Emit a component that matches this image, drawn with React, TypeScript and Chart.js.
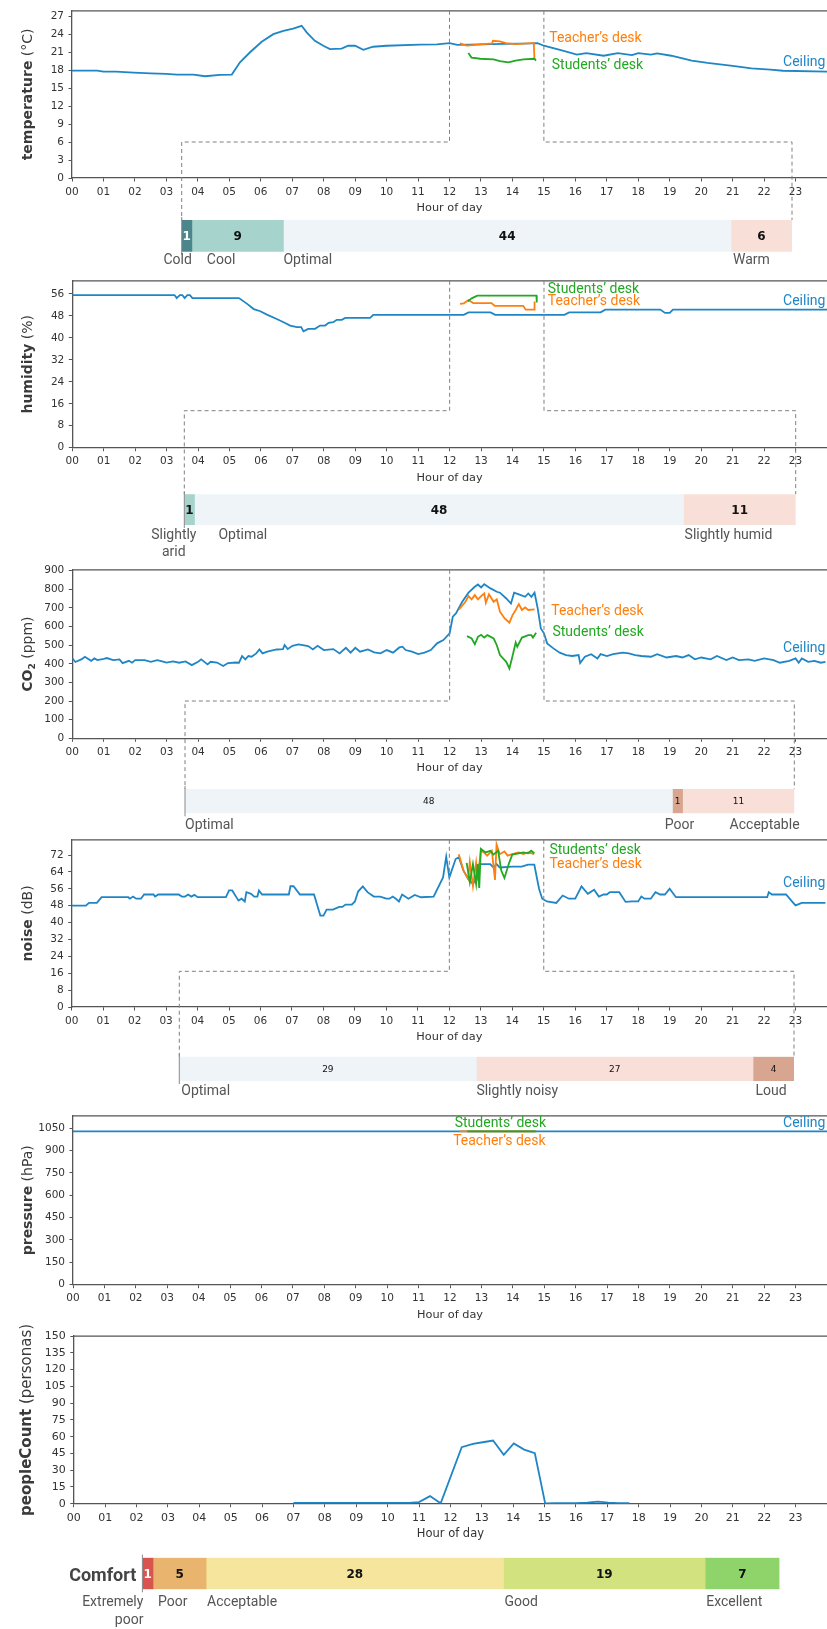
import React, { useEffect, useRef } from "react";
import { Chart, registerables } from "chart.js";
Chart.register(...registerables);

// ---------------- DATA ----------------
const hourTickValues = [0,1,2,3,4,5,6,7,8,9,10,11,12,13,14,15,16,17,18,19,20,21,22,23];
const hourTickLabels = ["00","01","02","03","04","05","06","07","08","09","10","11","12","13","14","15","16","17","18","19","20","21","22","23"];

const tempTicks = [0,3,6,9,12,15,18,21,24,27];
const humTicks = [0,8,16,24,32,40,48,56];
const co2Ticks = [0,100,200,300,400,500,600,700,800,900];
const noiseTicks = [0,8,16,24,32,40,48,56,64,72];
const pressureTicks = [0,150,300,450,600,750,900,1050];
const peopleTicks = [0,15,30,45,60,75,90,105,120,135,150];

const tempCeiling = [[0,17.92],[0.8,17.92],[1.0,17.75],[1.4,17.75],[1.96,17.58],[2.5,17.47],[3.0,17.37],[3.33,17.26],[3.86,17.26],[4.23,16.98],[4.7,17.2],[5.08,17.26],[5.34,19.3],[5.66,20.98],[6.03,22.74],[6.4,24.0],[6.72,24.56],[7.03,24.94],[7.3,25.4],[7.46,24.3],[7.72,22.9],[7.99,22.07],[8.2,21.5],[8.57,21.6],[8.78,22.07],[9.0,22.07],[9.26,21.4],[9.57,21.9],[10.0,22.07],[11.05,22.24],[11.6,22.3],[12.0,22.5],[12.25,22.2],[13.35,22.35],[14.6,22.45],[14.8,22.5],[15.0,22.07],[15.6,21.26],[16.05,20.6],[16.35,20.85],[16.9,20.4],[17.35,20.85],[17.8,20.5],[18.0,20.85],[18.4,20.6],[18.6,20.8],[19.05,20.4],[19.7,19.6],[20.2,19.2],[21.0,18.7],[21.6,18.3],[22.2,18.1],[22.6,17.9],[24.0,17.75]];
const tempTeacher = [[12.33,22.45],[12.55,22.1],[13.0,22.3],[13.35,22.45],[13.38,22.9],[13.6,22.8],[13.8,22.5],[14.1,22.35],[14.6,22.5],[14.68,22.5],[14.7,19.9]];
const tempStudents = [[12.6,20.85],[12.7,20.1],[12.98,19.9],[13.4,19.8],[13.6,19.5],[13.87,19.3],[14.1,19.6],[14.35,19.8],[14.7,19.9],[14.75,19.6]];

const humCeiling = [[0,55.6],[3.25,55.6],[3.32,54.5],[3.42,55.6],[3.5,55.6],[3.57,54.5],[3.66,55.6],[3.74,55.6],[3.82,54.5],[5.3,54.5],[5.56,52.4],[5.77,50.5],[5.98,49.7],[6.19,48.5],[6.5,46.9],[6.72,45.7],[6.93,44.5],[7.14,43.9],[7.28,43.9],[7.35,42.4],[7.5,43.3],[7.72,43.3],[7.88,44.5],[8.04,44.5],[8.15,45.5],[8.3,45.7],[8.41,46.6],[8.57,46.6],[8.68,47.3],[9.47,47.3],[9.57,48.4],[12.45,48.4],[12.6,49.3],[13.3,49.3],[13.45,48.4],[15.65,48.4],[15.8,49.3],[16.8,49.3],[16.95,50.3],[18.7,50.3],[18.85,49.1],[19.0,49.1],[19.1,50.3],[24,50.3]];
const humTeacher = [[12.33,52.4],[12.45,52.6],[12.6,53.8],[12.75,52.7],[13.33,52.7],[13.43,51.7],[14.34,51.7],[14.42,50.3],[14.69,50.3],[14.7,53.3]];
const humStudents = [[12.58,53.3],[12.7,54.4],[12.88,55.4],[14.76,55.4],[14.77,52.9]];

const co2Ceiling = [[0,430],[0.1,410],[0.3,425],[0.4,438],[0.6,416],[0.7,429],[0.8,420],[1,427],[1.1,431],[1.3,420],[1.5,424],[1.6,404],[1.8,416],[1.9,406],[2,420],[2.3,420],[2.5,411],[2.7,420],[2.8,416],[3,407],[3.2,413],[3.4,406],[3.6,413],[3.8,393],[4,411],[4.1,424],[4.3,397],[4.4,411],[4.6,407],[4.8,388],[4.95,404],[5.2,407],[5.3,406],[5.4,442],[5.5,424],[5.6,442],[5.7,438],[5.85,456],[5.95,477],[6.05,456],[6.2,465],[6.5,477],[6.7,479],[6.75,501],[6.85,479],[7,497],[7.2,504],[7.5,495],[7.65,477],[7.8,497],[8,474],[8.3,479],[8.5,456],[8.7,486],[8.85,460],[9,486],[9.15,465],[9.4,477],[9.6,462],[9.8,456],[10,474],[10.2,460],[10.4,488],[10.5,492],[10.6,474],[10.8,465],[11,452],[11.2,460],[11.4,474],[11.6,510],[11.8,528],[12,564],[12.1,653],[12.2,671],[12.4,733],[12.6,782],[12.8,814],[12.9,826],[13,810],[13.1,828],[13.3,805],[13.5,787],[13.6,782],[13.8,751],[13.95,724],[14.05,782],[14.2,773],[14.4,760],[14.5,778],[14.6,760],[14.7,782],[14.8,698],[14.9,590],[15,564],[15.1,510],[15.3,483],[15.5,460],[15.7,447],[15.9,442],[16.1,447],[16.15,404],[16.3,438],[16.5,452],[16.7,429],[16.8,452],[17,442],[17.2,452],[17.5,460],[17.7,456],[17.9,447],[18.1,442],[18.4,438],[18.6,452],[18.9,434],[19.2,442],[19.4,434],[19.6,447],[19.8,424],[20,434],[20.3,424],[20.5,442],[20.8,420],[21,434],[21.2,420],[21.5,424],[21.7,416],[22,429],[22.3,420],[22.5,406],[22.8,416],[23,429],[23.1,406],[23.2,429],[23.4,411],[23.6,416],[23.8,406],[23.95,411]];
const co2Teacher = [[12.3,692],[12.5,733],[12.6,764],[12.7,746],[12.8,769],[12.9,746],[13,764],[13.1,778],[13.15,728],[13.25,773],[13.4,733],[13.5,746],[13.6,680],[13.75,644],[13.9,621],[14,662],[14.1,689],[14.2,721],[14.3,689],[14.4,703],[14.5,689],[14.7,692]];
const co2Students = [[12.55,549],[12.7,536],[12.8,505],[12.9,545],[13,556],[13.1,541],[13.2,554],[13.4,536],[13.5,500],[13.6,447],[13.8,411],[13.9,375],[14,442],[14.1,514],[14.15,492],[14.3,541],[14.5,554],[14.6,554],[14.65,541],[14.75,567]];

const noiseCeiling = [[0,48],[0.45,48],[0.55,49.3],[0.8,49.3],[0.95,52],[1.8,52],[1.85,51.3],[1.95,52.3],[2.05,51.3],[2.2,51.3],[2.3,53.3],[2.6,53.3],[2.65,52.3],[2.75,53.3],[3.4,53.3],[3.5,52.3],[3.6,52.3],[3.7,53.3],[3.8,52.3],[3.9,53.1],[4,52],[4.9,52],[5,55.2],[5.1,55.2],[5.3,50.4],[5.4,51.3],[5.5,50],[5.55,54.4],[5.7,53.6],[5.8,52.3],[5.9,52.3],[5.95,55.2],[6.05,53.3],[6.9,53.3],[6.95,57.2],[7.05,57.2],[7.25,53.3],[7.7,53.3],[7.85,45.8],[7.9,43.3],[8,43.3],[8.1,46.1],[8.3,46.1],[8.5,47.4],[8.6,47.4],[8.7,48.5],[8.9,48.5],[9,50],[9.1,54.7],[9.25,57.1],[9.4,54.4],[9.6,52.3],[9.8,52.3],[10,51.3],[10.1,51.3],[10.2,52.3],[10.3,51.3],[10.4,50],[10.5,53.3],[10.7,51.3],[10.9,53.1],[11.1,52],[11.5,52.3],[11.8,61.4],[11.9,71.2],[12,61.4],[12.2,70.1],[12.3,70.9],[12.45,64.6],[12.6,60.7],[12.75,58.3],[12.85,60.7],[12.95,67.7],[13.3,67.7],[13.4,66.1],[13.5,67.7],[13.6,66.1],[14,66.5],[14.3,66.5],[14.5,67.4],[14.7,67.4],[14.85,56],[14.95,51.3],[15.1,50],[15.4,49.3],[15.6,52.8],[15.8,51.3],[16,51.3],[16.2,57.1],[16.4,53.6],[16.6,55.5],[16.75,52.3],[16.9,53.3],[17,53.3],[17.1,54.4],[17.4,54.4],[17.6,49.8],[17.8,50],[18,50],[18.1,52.3],[18.2,51.3],[18.4,51.3],[18.55,54.4],[18.7,53.3],[18.85,53.3],[19,56],[19.2,52],[22.1,52],[22.15,54.4],[22.25,53.3],[22.7,53.3],[22.9,49.8],[23,48.1],[23.2,49.3],[23.95,49.3]];
const noiseTeacher = [[12.3,72.4],[12.45,64.6],[12.6,60.7],[12.65,68.7],[12.75,57.2],[12.85,68.3],[12.9,59.9],[13,74],[13.1,73.2],[13.2,71.7],[13.35,74],[13.45,60.2],[13.5,77.1],[13.6,72.4],[13.75,73.7],[13.85,71.7],[14,72.4],[14.2,73.2],[14.35,72.4],[14.5,73.2],[14.7,72.4]];
const noiseStudents = [[12.55,68.3],[12.65,59.1],[12.75,67.7],[12.85,58.3],[12.9,67.7],[12.95,56.4],[13,74.9],[13.15,73.2],[13.3,74],[13.4,72.2],[13.55,74],[13.65,64.6],[13.75,61.1],[13.9,68.3],[14,72.2],[14.2,72.8],[14.35,73.2],[14.5,72.8],[14.6,74],[14.7,72.8]];

const pressureCeiling = [[0,1027],[6,1027],[12,1027],[18,1027],[24,1027]];
const pressureTeacher = [[12.3,1027],[14.7,1027]];
const pressureStudents = [[12.55,1027],[14.75,1027]];

const peopleCount = [[7.0,0.8],[7.33,0.8],[7.67,0.8],[8.0,0.8],[8.33,0.8],[8.67,0.8],[9.0,0.8],[9.33,0.8],[9.67,0.8],[10.0,0.8],[10.33,0.8],[10.67,0.8],[11.0,1.5],[11.35,6.8],[11.69,0.3],[12.36,50.6],[12.72,53.6],[13.03,55],[13.36,56.5],[13.7,43.8],[14.02,54],[14.35,48.4],[14.69,45.2],[15.02,0.3],[15.35,0.5],[15.7,0.5],[16.0,0.5],[16.36,0.9],[16.7,1.8],[17.03,0.9],[17.36,0.6],[17.7,0.6]];

const tempCats = ["Cold","Cool","Optimal","Warm"];
const tempCounts = [1,9,44,6];
const humCats = ["Slightly\narid","Optimal","Slightly humid"];
const humCounts = [1,48,11];
const co2Cats = ["Optimal","Poor","Acceptable"];
const co2Counts = [48,1,11];
const noiseCats = ["Optimal","Slightly noisy","Loud"];
const noiseCounts = [29,27,4];
const comfortCats = ["Extremely\npoor","Poor","Acceptable","Good","Excellent"];
const comfortCounts = [1,5,28,19,7];

// ---------------- STYLE ----------------
const W = 827;
const XH = 37;
const BLUE = "#1f86c6";
const ORANGE = "#ff7f0e";
const GREEN = "#22a822";
const AXIS = "#555";
const TICKF = "'DejaVu Sans', sans-serif";
const TEXTF = "Roboto, 'DejaVu Sans', sans-serif";

type Seg = { text: string; font: string; dy?: number };
type Annot = { text: string; x: number; y: number; color: string; align: CanvasTextAlign };
type Conn = { y: number; barTop: number; barLeft: number; barRight: number };
type LinePanel = {
  top: number; height: number; plotTop: number; plotBottom: number; plotLeft: number;
  yMax: number; yTicks: number[]; title: Seg[]; titleX: number;
  series: { data: number[][]; color: string }[];
  annotations: Annot[]; conn?: Conn; tickSize: number; xTitleSize: number;
};

const bold = (s: number) => `bold ${s}px 'DejaVu Sans', sans-serif`;
const reg = (s: number) => `${s}px 'DejaVu Sans', sans-serif`;

function LineChart({ p }: { p: LinePanel }) {
  const ref = useRef<HTMLCanvasElement>(null);
  useEffect(() => {
    const decor = {
      id: "decor",
      afterDraw(chart: any) {
        const ctx = chart.ctx as CanvasRenderingContext2D;
        const a = chart.chartArea;
        const xs = chart.scales.x, ys = chart.scales.y;
        ctx.save();
        ctx.strokeStyle = AXIS; ctx.lineWidth = 1.3;
        ctx.beginPath(); ctx.moveTo(a.left, a.top); ctx.lineTo(a.right, a.top); ctx.stroke();
        if (p.conn) {
          const c = p.conn;
          const cy = c.y - p.top, bt = c.barTop - p.top;
          const x12 = xs.getPixelForValue(12), x15 = xs.getPixelForValue(15);
          ctx.setLineDash([4, 3]); ctx.strokeStyle = "#808080"; ctx.lineWidth = 1;
          ctx.beginPath(); ctx.moveTo(x12, a.top); ctx.lineTo(x12, cy); ctx.lineTo(c.barLeft, cy); ctx.lineTo(c.barLeft, bt); ctx.stroke();
          ctx.beginPath(); ctx.moveTo(x15, a.top); ctx.lineTo(x15, cy); ctx.lineTo(c.barRight, cy); ctx.lineTo(c.barRight, bt); ctx.stroke();
          ctx.setLineDash([]);
        }
        // y title
        ctx.save();
        ctx.translate(p.titleX, (a.top + a.bottom) / 2);
        ctx.rotate(-Math.PI / 2);
        let total = 0;
        const widths = p.title.map((s) => { ctx.font = s.font; const w = ctx.measureText(s.text).width; total += w; return w; });
        let x = -total / 2;
        ctx.fillStyle = "#3a3a3a"; ctx.textBaseline = "alphabetic"; ctx.textAlign = "left";
        p.title.forEach((s, i) => { ctx.font = s.font; ctx.fillText(s.text, x, 5 + (s.dy || 0)); x += widths[i]; });
        ctx.restore();
        // annotations
        ctx.font = `14px ${TEXTF}`; ctx.textBaseline = "middle";
        p.annotations.forEach((an) => {
          ctx.fillStyle = an.color; ctx.textAlign = an.align;
          ctx.fillText(an.text, xs.getPixelForValue(an.x), ys.getPixelForValue(an.y));
        });
        ctx.restore();
      },
    };
    const bottomPad = p.height - (p.plotBottom - p.top) - XH;
    const chart = new Chart(ref.current!, {
      type: "line",
      data: {
        datasets: p.series.map((s) => ({
          data: s.data.map(([x, y]) => ({ x, y })),
          borderColor: s.color, borderWidth: 1.8, pointRadius: 0, fill: false, tension: 0,
        })),
      },
      options: {
        animation: false, responsive: false, maintainAspectRatio: false,
        layout: { padding: { top: p.plotTop - p.top, bottom: bottomPad, left: 0, right: 0 } },
        plugins: { legend: { display: false }, tooltip: { enabled: false } },
        scales: {
          x: {
            type: "linear", min: 0, max: 24,
            afterBuildTicks: (s: any) => { s.ticks = hourTickValues.map((v) => ({ value: v })); },
            afterFit: (s: any) => { s.height = XH; },
            ticks: { callback: (_v: any, i: number) => hourTickLabels[i], font: { family: TICKF, size: p.tickSize }, color: "#333", padding: 4, maxRotation: 0, autoSkip: false },
            grid: { drawOnChartArea: false, tickLength: 3.5, color: AXIS, tickWidth: 1 },
            border: { color: AXIS, width: 1.3 },
            title: { display: true, text: "Hour of day", font: { family: TICKF, size: p.xTitleSize }, color: "#333", padding: 0 },
          },
          y: {
            type: "linear", min: 0, max: p.yMax,
            afterBuildTicks: (s: any) => { s.ticks = p.yTicks.map((v) => ({ value: v })); },
            afterFit: (s: any) => { s.width = p.plotLeft; },
            ticks: { callback: (v: any) => String(v), font: { family: TICKF, size: p.tickSize }, color: "#333", padding: 4.5 },
            grid: { drawOnChartArea: false, tickLength: 3.5, color: AXIS, tickWidth: 1 },
            border: { color: AXIS, width: 1.3 },
          },
        },
      } as any,
      plugins: [decor],
    });
    return () => chart.destroy();
  }, []);
  return <canvas ref={ref} width={W} height={p.height} style={{ position: "absolute", left: 0, top: p.top }} />;
}

type Anchor = { at: "start" | "end" | "center"; align: CanvasTextAlign; dx: number; multi?: "center" | "right" };
type BarPanel = {
  top: number; height: number; barTop: number; barBottom: number; barLeft: number; barRight: number;
  values: number[]; cats: string[]; colors: string[]; numColors: string[]; numFont: string;
  anchors: Anchor[]; labelDy: number; lineH: number; leftTitle?: string;
};

function BarStrip({ p }: { p: BarPanel }) {
  const ref = useRef<HTMLCanvasElement>(null);
  useEffect(() => {
    const total = p.values.reduce((a, b) => a + b, 0);
    const deco = {
      id: "deco",
      afterDraw(chart: any) {
        const ctx = chart.ctx as CanvasRenderingContext2D;
        const a = chart.chartArea;
        ctx.save();
        ctx.strokeStyle = "#8a8a8a"; ctx.lineWidth = 1;
        ctx.beginPath(); ctx.moveTo(a.left, a.top - 3); ctx.lineTo(a.left, a.bottom + 3); ctx.stroke();
        const labelY = p.barBottom - p.top + p.labelDy;
        p.values.forEach((v, i) => {
          const el = chart.getDatasetMeta(i).data[0];
          const x0 = Math.min(el.base, el.x), x1 = Math.max(el.base, el.x);
          ctx.font = p.numFont; ctx.fillStyle = p.numColors[i]; ctx.textAlign = "center"; ctx.textBaseline = "middle";
          ctx.fillText(String(v), (x0 + x1) / 2, el.y + 1);
          const an = p.anchors[i];
          const ax = (an.at === "start" ? x0 : an.at === "end" ? x1 : (x0 + x1) / 2) + an.dx;
          const lines = p.cats[i].split("\n");
          ctx.font = `14px ${TEXTF}`; ctx.fillStyle = "#555";
          const ws = lines.map((l) => ctx.measureText(l).width);
          const mw = Math.max(...ws);
          const left = an.align === "right" ? ax - mw : an.align === "center" ? ax - mw / 2 : ax;
          lines.forEach((l, j) => {
            const y = labelY + j * p.lineH;
            const m = an.multi || (an.align === "right" ? "right" : "left");
            if (m === "center") { ctx.textAlign = "center"; ctx.fillText(l, left + mw / 2, y); }
            else if (m === "right") { ctx.textAlign = "right"; ctx.fillText(l, left + mw, y); }
            else { ctx.textAlign = "left"; ctx.fillText(l, left, y); }
          });
        });
        if (p.leftTitle) {
          ctx.font = `bold 18px ${TEXTF}`; ctx.fillStyle = "#444"; ctx.textAlign = "right"; ctx.textBaseline = "middle";
          ctx.fillText(p.leftTitle, a.left - 6, (a.top + a.bottom) / 2 + 3);
        }
        ctx.restore();
      },
    };
    const chart = new Chart(ref.current!, {
      type: "bar",
      data: {
        labels: [""],
        datasets: p.values.map((v, i) => ({ data: [v], backgroundColor: p.colors[i], borderWidth: 0, barPercentage: 1, categoryPercentage: 1 })),
      },
      options: {
        indexAxis: "y", animation: false, responsive: false, maintainAspectRatio: false,
        layout: { padding: { left: p.barLeft, right: W - p.barRight, top: p.barTop - p.top, bottom: p.height - (p.barBottom - p.top) } },
        plugins: { legend: { display: false }, tooltip: { enabled: false } },
        scales: { x: { stacked: true, display: false, min: 0, max: total }, y: { stacked: true, display: false } },
      } as any,
      plugins: [deco],
    });
    return () => chart.destroy();
  }, []);
  return <canvas ref={ref} width={W} height={p.height} style={{ position: "absolute", left: 0, top: p.top }} />;
}

const deskAnnots = (tx: number, ty: number, sx: number, sy: number, cy: number): Annot[] => [
  { text: "Teacher’s desk", x: tx, y: ty, color: ORANGE, align: "left" },
  { text: "Students’ desk", x: sx, y: sy, color: GREEN, align: "left" },
  { text: "Ceiling", x: 23.95, y: cy, color: BLUE, align: "right" },
];

const linePanels: LinePanel[] = [
  {
    top: 0, height: 222, plotTop: 10, plotBottom: 178, plotLeft: 72, yMax: 27.9, yTicks: tempTicks, titleX: 27,
    title: [{ text: "temperature", font: bold(14) }, { text: " (°C)", font: reg(14) }],
    series: [{ data: tempStudents, color: GREEN }, { data: tempTeacher, color: ORANGE }, { data: tempCeiling, color: BLUE }],
    annotations: deskAnnots(15.17, 23.3, 15.25, 18.75, 19.3),
    conn: { y: 142, barTop: 220, barLeft: 181.7, barRight: 792 }, tickSize: 10.5, xTitleSize: 11.3,
  },
  {
    top: 270, height: 227, plotTop: 280, plotBottom: 447.7, plotLeft: 72.3, yMax: 60.8, yTicks: humTicks, titleX: 27,
    title: [{ text: "humidity", font: bold(14) }, { text: " (%)", font: reg(14) }],
    series: [{ data: humStudents, color: GREEN }, { data: humTeacher, color: ORANGE }, { data: humCeiling, color: BLUE }],
    annotations: deskAnnots(15.12, 53.2, 15.12, 57.6, 53.2),
    conn: { y: 410.7, barTop: 494.3, barLeft: 184.3, barRight: 795.7 }, tickSize: 10.5, xTitleSize: 11.3,
  },
  {
    top: 559, height: 232, plotTop: 569, plotBottom: 738.3, plotLeft: 72.3, yMax: 905, yTicks: co2Ticks, titleX: 27,
    title: [{ text: "CO", font: bold(14) }, { text: "2", font: bold(9), dy: 3 }, { text: " (ppm)", font: reg(14) }],
    series: [{ data: co2Students, color: GREEN }, { data: co2Teacher, color: ORANGE }, { data: co2Ceiling, color: BLUE }],
    annotations: deskAnnots(15.23, 680, 15.27, 567, 480),
    conn: { y: 701, barTop: 789, barLeft: 185, barRight: 794.3 }, tickSize: 10.5, xTitleSize: 11.3,
  },
  {
    top: 829, height: 230, plotTop: 839, plotBottom: 1007, plotLeft: 71.7, yMax: 79.2, yTicks: noiseTicks, titleX: 27,
    title: [{ text: "noise", font: bold(14) }, { text: " (dB)", font: reg(14) }],
    series: [{ data: noiseStudents, color: GREEN }, { data: noiseTeacher, color: ORANGE }, { data: noiseCeiling, color: BLUE }],
    annotations: deskAnnots(15.18, 67.4, 15.18, 74, 58.6),
    conn: { y: 971.3, barTop: 1056.7, barLeft: 179.3, barRight: 794 }, tickSize: 10.5, xTitleSize: 11.3,
  },
  {
    top: 1105, height: 220, plotTop: 1115, plotBottom: 1284.7, plotLeft: 73, yMax: 1132, yTicks: pressureTicks, titleX: 27,
    title: [{ text: "pressure", font: bold(14) }, { text: " (hPa)", font: reg(14) }],
    series: [{ data: pressureStudents, color: GREEN }, { data: pressureTeacher, color: ORANGE }, { data: pressureCeiling, color: BLUE }],
    annotations: deskAnnots(12.1, 959, 12.15, 1081, 1081), tickSize: 10.5, xTitleSize: 11.3,
  },
  {
    top: 1325, height: 220, plotTop: 1334.7, plotBottom: 1503.7, plotLeft: 73.8, yMax: 150, yTicks: peopleTicks, titleX: 26,
    title: [{ text: "peopleCount", font: bold(15) }, { text: " (personas)", font: reg(15) }],
    series: [{ data: peopleCount, color: BLUE }],
    annotations: [], tickSize: 11, xTitleSize: 11.5,
  },
];

const OPT = "#eef4f8", PINK = "#f8e0d8", BROWN = "#d8a690", TEAL = "#a6d3cc", DTEAL = "#4a868c";

const barPanels: BarPanel[] = [
  {
    top: 214, height: 60, barTop: 220, barBottom: 251.7, barLeft: 181.7, barRight: 792,
    values: tempCounts, cats: tempCats, colors: [DTEAL, TEAL, OPT, PINK], numColors: ["#fff", "#111", "#111", "#111"], numFont: bold(12),
    anchors: [{ at: "end", align: "right", dx: 0 }, { at: "start", align: "left", dx: 15 }, { at: "start", align: "left", dx: 0 }, { at: "start", align: "left", dx: 2 }],
    labelDy: 8.5, lineH: 16,
  },
  {
    top: 488, height: 75, barTop: 494.3, barBottom: 525, barLeft: 184.3, barRight: 795.7,
    values: humCounts, cats: humCats, colors: [TEAL, OPT, PINK], numColors: ["#111", "#111", "#111"], numFont: bold(12),
    anchors: [{ at: "end", align: "right", dx: 2, multi: "center" }, { at: "start", align: "left", dx: 24 }, { at: "start", align: "left", dx: 1 }],
    labelDy: 10.7, lineH: 16.3,
  },
  {
    top: 783, height: 55, barTop: 789, barBottom: 813.3, barLeft: 185, barRight: 794.3,
    values: co2Counts, cats: co2Cats, colors: [OPT, BROWN, PINK], numColors: ["#111", "#111", "#111"], numFont: reg(9),
    anchors: [{ at: "start", align: "left", dx: 0 }, { at: "center", align: "center", dx: 2 }, { at: "start", align: "left", dx: 47 }],
    labelDy: 11.7, lineH: 16,
  },
  {
    top: 1050, height: 55, barTop: 1056.7, barBottom: 1081, barLeft: 179.3, barRight: 794,
    values: noiseCounts, cats: noiseCats, colors: [OPT, PINK, BROWN], numColors: ["#111", "#111", "#111"], numFont: reg(9),
    anchors: [{ at: "start", align: "left", dx: 2 }, { at: "start", align: "left", dx: 0 }, { at: "start", align: "left", dx: 2.5 }],
    labelDy: 10.7, lineH: 16,
  },
  {
    top: 1550, height: 79, barTop: 1557.7, barBottom: 1589.3, barLeft: 142.4, barRight: 779.5,
    values: comfortCounts, cats: comfortCats, colors: ["#d9534f", "#e9b46e", "#f6e59c", "#d2e27f", "#8fd46a"],
    numColors: ["#fff", "#111", "#111", "#111", "#111"], numFont: bold(12),
    anchors: [{ at: "start", align: "right", dx: 1, multi: "right" }, { at: "start", align: "left", dx: 5 }, { at: "start", align: "left", dx: 1 }, { at: "start", align: "left", dx: 1 }, { at: "start", align: "left", dx: 1 }],
    labelDy: 13.4, lineH: 17.3, leftTitle: "Comfort",
  },
];

export default function App() {
  return (
    <div style={{ position: "absolute", left: 0, top: 0, width: W, height: 1629, overflow: "hidden", background: "#fff" }}>
      {linePanels.map((p, i) => <LineChart key={"l" + i} p={p} />)}
      {barPanels.map((p, i) => <BarStrip key={"b" + i} p={p} />)}
    </div>
  );
}
